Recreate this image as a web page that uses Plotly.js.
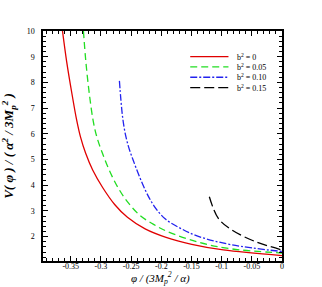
<!DOCTYPE html>
<html><head><meta charset="utf-8">
<script src="https://cdn.plot.ly/plotly-3.0.1.min.js"></script>
<style>html,body{margin:0;padding:0;background:#fff}</style>
</head><body><div id="chart" style="width:322px;height:287px"></div>
<script>
// data
const phiB0 = [-0.3637,-0.3568,-0.3477,-0.3402,-0.3339,-0.3253,-0.3137,-0.2972,-0.2773,-0.2561,-0.2268,-0.1921,-0.1495,-0.0972,0];
const vB0   = [10,8.81,7.51,6.53,5.88,5.24,4.59,3.91,3.25,2.75,2.30,1.97,1.70,1.48,1.26];
const phiB05 = [-0.3290,-0.3250,-0.3190,-0.3126,-0.3068,-0.2975,-0.2856,-0.2723,-0.2566,-0.2351,-0.2103,-0.1921,-0.1386,-0.0833,0];
const vB05   = [10,8.81,7.51,6.47,5.88,5.24,4.55,3.93,3.37,2.82,2.44,2.22,1.78,1.52,1.36];
const phiB10 = [-0.2694,-0.2669,-0.2639,-0.2599,-0.2541,-0.2467,-0.2359,-0.2243,-0.2119,-0.1937,-0.1689,-0.1386,-0.0833,0];
const vB10   = [8.06,7.31,6.61,6.03,5.48,4.98,4.32,3.70,3.19,2.69,2.33,2.01,1.68,1.42];
const phiB15 = [-0.1204,-0.1055,-0.0833,-0.0447,0];
const vB15   = [3.55,2.71,2.26,1.81,1.48];

const seriesNames = ['b<sup>2</sup> = 0','b<sup>2</sup> = 0.05','b<sup>2</sup> = 0.10','b<sup>2</sup> = 0.15'];
const xTickVals = [-0.35,-0.3,-0.25,-0.2,-0.15,-0.1,-0.05,0];
const xTickText = ['-0.35','-0.3','-0.25','-0.2','-0.15','-0.1','-0.05','0'];
const yTickVals = [2,3,4,5,6,7,8,9,10];
const yTickText = ['2','3','4','5','6','7','8','9','10'];
const xTitle = '<i>φ / (3M<sub>p</sub><sup>2</sup> / α)</i>';
const yTitle = '<b><i>V( φ ) / ( α<sup>2</sup> / 3M<sub>p</sub><sup>2</sup> )</i></b>';

const styles = [
  {color:'#e00000', dash:'solid'},
  {color:'#22dd22', dash:'7px,4px'},
  {color:'#2222ee', dash:'7px,2px,2px,2px'},
  {color:'#000000', dash:'10px,4px'}
];
const xs = [phiB0, phiB05, phiB10, phiB15];
const ys = [vB0, vB05, vB10, vB15];

const traces = xs.map((x,i)=>({
  x:x, y:ys[i], type:'scatter', mode:'lines', name:seriesNames[i],
  line:{color:styles[i].color, dash:styles[i].dash, width:1.3, shape:'spline', smoothing:1},
  showlegend:false, hoverinfo:'skip'
}));

const FONT = 'Liberation Serif';
const shapes = [], annotations = [];
const legX0 = 0.616, legX1 = 0.776, legTx = 0.804, legY0 = 0.889, legDy = 0.045;
seriesNames.forEach((n,i)=>{
  const yy = legY0 - i*legDy;
  shapes.push({type:'line', xref:'paper', yref:'paper', x0:legX0, x1:legX1, y0:yy, y1:yy,
    line:{color:styles[i].color, dash:styles[i].dash, width:1.3}});
  annotations.push({xref:'paper', yref:'paper', x:legTx, y:yy, xanchor:'left', yanchor:'middle',
    text:n, showarrow:false, font:{family:FONT, size:8, color:'#000'}});
});
// x axis title placed just below the tick labels
annotations.push({xref:'paper', yref:'paper', x:0.49, y:-0.072, xanchor:'center', yanchor:'middle',
  text:xTitle, showarrow:false, font:{family:FONT, size:11, color:'#000'}});

const axisCommon = {
  showgrid:false, zeroline:false, showline:true, linecolor:'#000', linewidth:1.5,
  mirror:'ticks', ticks:'inside', ticklen:5, tickwidth:1, tickcolor:'#000',
  tickfont:{family:FONT, size:8, color:'#000'}
};

const layout = {
  width:322, height:287,
  margin:{l:43, r:40, t:31, b:26},
  paper_bgcolor:'#fff', plot_bgcolor:'#fff',
  font:{family:FONT, color:'#000'},
  xaxis: Object.assign({}, axisCommon, {
    range:[-0.396, 0], tickmode:'array', tickvals:xTickVals, ticktext:xTickText,
    ticklabelstandoff:-3,
    minor:{dtick:0.01, ticks:'inside', ticklen:3, tickwidth:1, tickcolor:'#000', showgrid:false}
  }),
  yaxis: Object.assign({}, axisCommon, {
    range:[1.05, 10], tickmode:'array', tickvals:yTickVals, ticktext:yTickText,
    ticklabelstandoff:5,
    minor:{dtick:0.2, tick0:0, ticks:'inside', ticklen:3, tickwidth:1, tickcolor:'#000', showgrid:false},
    title:{text:yTitle, font:{family:FONT, size:13}, standoff:11}
  }),
  shapes:shapes, annotations:annotations, showlegend:false
};

Plotly.newPlot('chart', traces, layout, {displayModeBar:false});
</script></body></html>
